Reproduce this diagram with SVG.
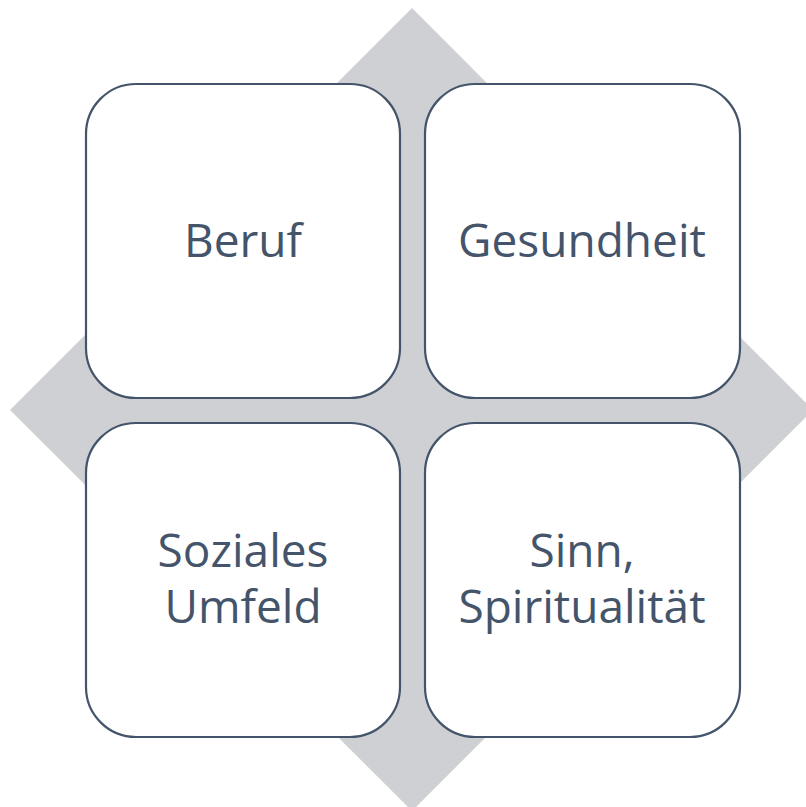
<svg xmlns="http://www.w3.org/2000/svg" width="806" height="807" viewBox="0 0 806 807">
<style>
.box{fill:#ffffff;stroke:#44546a;stroke-width:2.2}
.lbl{font-family:"Open Sans",Lato,"Liberation Sans",sans-serif;font-size:46px;fill:#44546a;text-anchor:middle}
</style>
<rect width="806" height="807" fill="#ffffff"/>
<polygon points="412,8 813,410 412,811 10,410" fill="#cfd0d4"/>
<g id="beruf"><rect class="box" x="86" y="84" width="314" height="314" rx="50"/><text class="lbl" x="243" y="257">Beruf</text></g>
<g id="gesundheit"><rect class="box" x="425" y="84" width="315" height="314" rx="50"/><text class="lbl" x="582" y="257">Gesundheit</text></g>
<g id="soziales"><rect class="box" x="86" y="423" width="314" height="314" rx="50"/><text class="lbl" x="243" y="567">Soziales</text><text class="lbl" x="243" y="623">Umfeld</text></g>
<g id="sinn"><rect class="box" x="425" y="423" width="315" height="314" rx="50"/><text class="lbl" x="582" y="567">Sinn,</text><text class="lbl" x="582" y="623">Spiritualität</text></g>
<g id="connectors"/>
</svg>
